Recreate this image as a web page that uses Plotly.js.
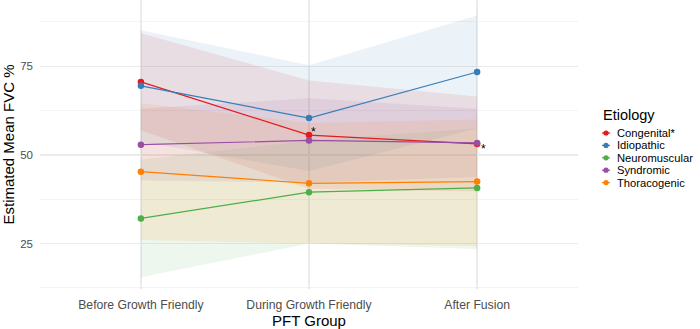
<!DOCTYPE html>
<html>
<head>
<meta charset="utf-8">
<script src="https://cdn.plot.ly/plotly-3.0.1.min.js"></script>
<style>html,body{margin:0;padding:0;background:#fff;}#chart{width:700px;height:329px;}</style>
</head>
<body>
<div id="chart"></div>
<script>
// ---- data ----
var groups = ["Before Growth Friendly", "During Growth Friendly", "After Fusion"];
var etiologies = ["Congenital*", "Idiopathic", "Neuromuscular", "Syndromic", "Thoracogenic"];
var colors = ["#E41A1C", "#377EB8", "#4DAF4A", "#984EA3", "#FF7F00"];
var fills = ["rgba(228,26,28,0.1)", "rgba(55,126,184,0.1)", "rgba(77,175,74,0.1)", "rgba(152,78,163,0.1)", "rgba(255,127,0,0.1)"];

var congenitalMean  = [70.6, 55.6, 53.1];
var congenitalUpper = [84.3, 71.0, 66.5];
var congenitalLower = [57.0, 40.5, 39.7];

var idiopathicMean  = [69.5, 60.4, 73.4];
var idiopathicUpper = [85.2, 75.3, 89.3];
var idiopathicLower = [53.8, 45.5, 57.5];

var neuromuscularMean  = [32.1, 39.5, 40.7];
var neuromuscularUpper = [48.7, 54.0, 57.5];
var neuromuscularLower = [15.5, 25.0, 23.5];

var syndromicMean  = [52.9, 54.1, 53.4];
var syndromicUpper = [63.0, 66.0, 63.0];
var syndromicLower = [42.8, 42.2, 43.8];

var thoracogenicMean  = [45.3, 42.0, 42.5];
var thoracogenicUpper = [64.6, 59.0, 60.0];
var thoracogenicLower = [26.0, 25.0, 24.3];

var yTicks = [25, 50, 75];
var yMinor = [12.5, 37.5, 62.5, 87.5];

// significance markers (Congenital*)
var starGroups = ["During Growth Friendly", "After Fusion"];
var starValues = [55.6, 53.1];

var means = [congenitalMean, idiopathicMean, neuromuscularMean, syndromicMean, thoracogenicMean];
var uppers = [congenitalUpper, idiopathicUpper, neuromuscularUpper, syndromicUpper, thoracogenicUpper];
var lowers = [congenitalLower, idiopathicLower, neuromuscularLower, syndromicLower, thoracogenicLower];

var FONT = "Liberation Sans, Arial, sans-serif";
var traces = [];
for (var i = 0; i < etiologies.length; i++) {
  traces.push({
    type: "scatter", mode: "lines",
    x: groups.concat(groups.slice().reverse()),
    y: uppers[i].concat(lowers[i].slice().reverse()),
    fill: "toself", fillcolor: fills[i],
    line: {width: 0, color: "rgba(0,0,0,0)"},
    hoverinfo: "skip", showlegend: false
  });
}
for (var i = 0; i < etiologies.length; i++) {
  traces.push({
    type: "scatter", mode: "lines+markers",
    x: groups, y: means[i], name: etiologies[i],
    line: {color: colors[i], width: 1.2},
    marker: {color: colors[i], size: 6.5},
    showlegend: false
  });
}

var L = 40, R = 122, T = 0, B = 40;
var W = 700 - L - R, H = 329 - T - B;
function px(x) { return (x - L) / W; }
function py(y) { return 1 - (y - T) / H; }

var annotations = [];
var starShift = [[4, 3], [6, -5]];
for (var k = 0; k < starGroups.length; k++) {
  annotations.push({
    x: starGroups[k], y: starValues[k], xref: "x", yref: "y",
    text: "*", showarrow: false, xanchor: "center", yanchor: "middle",
    xshift: starShift[k][0], yshift: starShift[k][1],
    font: {family: FONT, size: 12, color: "#000"}
  });
}
annotations.push({
  x: px(601), y: py(115), xref: "paper", yref: "paper",
  text: "Etiology", showarrow: false, xanchor: "left", yanchor: "middle",
  font: {family: FONT, size: 14.5, color: "#000"}
});
var shapes = [];
for (var i = 0; i < etiologies.length; i++) {
  var yy = 133 + i * 12.4;
  annotations.push({
    x: px(616), y: py(yy), xref: "paper", yref: "paper",
    text: etiologies[i], showarrow: false, xanchor: "left", yanchor: "middle",
    borderpad: 0,
    font: {family: FONT, size: 11.2, color: "#000"}
  });
  shapes.push({
    type: "line", xref: "paper", yref: "paper", xsizemode: "pixel", ysizemode: "pixel",
    xanchor: px(606), yanchor: py(yy), x0: -4, x1: 4, y0: 0, y1: 0,
    line: {color: colors[i], width: 1.2}
  });
  shapes.push({
    type: "circle", xref: "paper", yref: "paper", xsizemode: "pixel", ysizemode: "pixel",
    xanchor: px(606), yanchor: py(yy), x0: -2.6, x1: 2.6, y0: -2.6, y1: 2.6,
    fillcolor: colors[i], line: {width: 0}
  });
}

var layout = {
  width: 700, height: 329,
  margin: {l: L, r: R, t: T, b: B, pad: 0},
  paper_bgcolor: "#fff", plot_bgcolor: "#fff",
  showlegend: false,
  font: {family: FONT},
  xaxis: {
    type: "category", categoryorder: "array", categoryarray: groups,
    range: [-0.6, 2.6], showgrid: true, gridcolor: "#EBEBEB", gridwidth: 1.3,
    zeroline: false, showline: false, ticks: "", ticklabelstandoff: 7,
    tickfont: {size: 12.2, color: "#4D4D4D"},
    title: {text: "PFT Group", font: {size: 15, color: "#000"}, standoff: 0}
  },
  yaxis: {
    range: [12.2, 93.7], tickmode: "array", tickvals: yTicks, ticktext: yTicks.map(String),
    showgrid: true, gridcolor: "#EBEBEB", gridwidth: 1.3, zeroline: false, showline: false,
    ticks: "", ticklabelstandoff: 6,
    tickfont: {size: 11.5, color: "#4D4D4D"},
    minor: {tickmode: "array", tickvals: yMinor, showgrid: true, gridcolor: "#F3F3F3", gridwidth: 1},
    title: {text: "Estimated Mean FVC %", font: {size: 15, color: "#000"}, standoff: 5}
  },
  annotations: annotations,
  shapes: shapes
};

Plotly.newPlot("chart", traces, layout, {staticPlot: true, displayModeBar: false});
</script>
</body>
</html>
